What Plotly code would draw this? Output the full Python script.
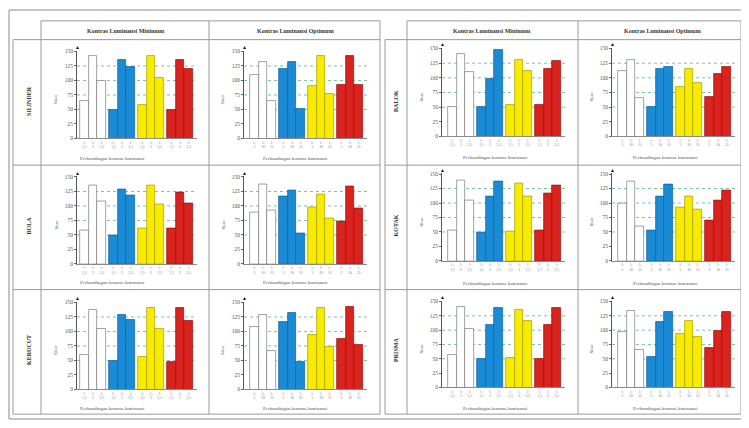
import plotly.graph_objects as go

# page body has an 8px margin: the figure is drawn 8px in from the window corner
OFF = 8
W, H = 749 - OFF, 428 - OFF

objects_left = ["SILINDER", "BOLA", "KERUCUT"]
objects_right = ["BALOK", "KOTAK", "PRISMA"]
col_titles = ["Kontras Luminansi Minimum", "Kontras Luminansi Optimum"]
y_title = "Skor"
x_title = "Perbandingan kontras luminansi"
y_ticks = [0, 25, 50, 75, 100, 125, 150]
grid_vals = [50, 75, 100, 125]

# bar order: white group, blue group, yellow group, red group (3 bars each)
silinder_min = [65, 142, 100, 50, 135, 123, 58, 142, 105, 50, 135, 120]
silinder_opt = [110, 132, 65, 120, 132, 51, 90, 143, 76, 93, 143, 93]
bola_min = [57, 136, 108, 50, 129, 118, 62, 136, 103, 61, 123, 105]
bola_opt = [89, 137, 93, 116, 127, 53, 98, 120, 78, 74, 134, 95]
kerucut_min = [59, 137, 105, 50, 129, 120, 56, 140, 104, 48, 140, 119]
kerucut_opt = [108, 129, 66, 117, 132, 48, 94, 140, 74, 87, 143, 77]
balok_min = [50, 140, 110, 50, 98, 147, 54, 130, 112, 54, 116, 129]
balok_opt = [111, 130, 65, 50, 115, 119, 85, 115, 92, 68, 106, 119]
kotak_min = [53, 139, 104, 50, 111, 137, 51, 133, 111, 52, 117, 131]
kotak_opt = [99, 138, 59, 53, 112, 132, 92, 112, 89, 70, 104, 122]
prisma_min = [56, 140, 103, 49, 110, 139, 52, 135, 116, 50, 110, 139]
prisma_opt = [97, 133, 66, 53, 115, 131, 93, 116, 88, 69, 99, 131]

min_labels = ["1:<br>1,5", "1:<br>2", "1:<br>2,5"] * 4
opt_labels = ["1:<br>5", "1:<br>10", "1:<br>15"] * 4

group_colors = ["#ffffff", "#1b8bd6", "#f7eb00", "#d9231f"]
group_lines = ["#7a7a7a", "#0f5f99", "#a89c00", "#8f1210"]

panels = [
    # (values, labels, axis_px_left, axis_px_right, xrange_left, y0_px, y150_px)
    (silinder_min, min_labels, 77, 197, -0.85, 138, 50),
    (silinder_opt, opt_labels, 244, 367, -1.2, 138, 50),
    (bola_min, min_labels, 77, 197, -0.85, 265, 177),
    (bola_opt, opt_labels, 244, 367, -1.2, 265, 177),
    (kerucut_min, min_labels, 77, 197, -0.85, 392, 304),
    (kerucut_opt, opt_labels, 244, 367, -1.2, 392, 304),
    (balok_min, min_labels, 442, 565, -1.2, 136, 47),
    (balok_opt, opt_labels, 612, 735, -1.2, 136, 47),
    (kotak_min, min_labels, 442, 565, -1.2, 262, 174),
    (kotak_opt, opt_labels, 612, 735, -1.2, 262, 174),
    (prisma_min, min_labels, 442, 565, -1.2, 390, 303),
    (prisma_opt, opt_labels, 612, 735, -1.2, 390, 303),
]

def fx(p):
    return (p - OFF) / W

def fy(p):
    return 1 - (p - OFF) / H

SERIF = "Liberation Serif, DejaVu Serif, serif"
fig = go.Figure()
layout = {}
shapes = []
annotations = []

def note(text, x, y, size, color="#555", angle=0):
    annotations.append(dict(text=text, xref="paper", yref="paper",
                            x=fx(x), y=fy(y), showarrow=False, textangle=angle,
                            xanchor="center", yanchor="middle",
                            font=dict(size=size, family=SERIF, color=color)))

GAP = 3.35
for i, (vals, labels, xl, xr, rl, y0, y150) in enumerate(panels):
    n = i + 1
    sfx = "" if n == 1 else str(n)
    xs = [g * GAP + b for g in range(4) for b in range(3)]
    colors = [group_colors[k // 3] for k in range(12)]
    lines = [group_lines[k // 3] for k in range(12)]
    fig.add_trace(go.Bar(
        x=xs, y=vals, width=1.0,
        marker=dict(color=colors, line=dict(color=lines, width=0.7)),
        xaxis=f"x{sfx}", yaxis=f"y{sfx}", showlegend=False, hoverinfo="y",
    ))
    ytop = 151
    top_px = y0 - ytop * (y0 - y150) / 150
    layout[f"xaxis{sfx}"] = dict(
        domain=[fx(xl), fx(xr)], anchor=f"y{sfx}", range=[rl, 13.0],
        showline=True, linecolor="#8a8a8a", linewidth=1, showgrid=False,
        zeroline=False, tickvals=xs, ticktext=labels, ticks="",
        tickfont=dict(size=3.6, family=SERIF, color="#777"), tickangle=0,
        fixedrange=True,
    )
    layout[f"yaxis{sfx}"] = dict(
        domain=[fy(y0), fy(top_px)], anchor=f"x{sfx}", range=[0, ytop],
        showline=True, linecolor="#555", linewidth=1, showgrid=False,
        zeroline=False, tickvals=y_ticks, ticks="outside", ticklen=2,
        tickcolor="#666", tickfont=dict(size=5.5, family=SERIF, color="#555"),
        fixedrange=True,
    )
    for v in grid_vals:
        shapes.append(dict(type="line", xref=f"x{sfx} domain", yref=f"y{sfx}",
                           x0=0, x1=1, y0=v, y1=v, layer="below",
                           line=dict(color="#7cc4a0", width=1, dash="dot")))
    annotations.append(dict(text="▲", xref=f"x{sfx} domain", yref=f"y{sfx}",
                            x=0, y=149, showarrow=False, xanchor="center",
                            yanchor="bottom", xshift=0.5,
                            font=dict(size=5, color="#111")))
    note(y_title, xl - 21, (y0 + y150) / 2 + 4, 5, angle=-90)

# x titles
xt_centers = [112, 295, 495, 665]
xt_rows_left = [158, 284, 411]
xt_rows_right = [157, 285, 411]
for r in range(3):
    for c, cx in enumerate(xt_centers):
        yy = xt_rows_left[r] if c < 2 else xt_rows_right[r]
        note(x_title, cx, yy, 5)

# column headers
for cx, t in zip([125, 295, 492, 662], col_titles * 2):
    note(f"<b>{t}</b>", cx, 29, 6, color="#333")

# row labels
row_centers = [100, 226, 352]
for cy, t in zip(row_centers, objects_left):
    note(f"<b>{t}</b>", 29, cy, 6, color="#333", angle=-90)
for cy, t in zip(row_centers, objects_right):
    note(f"<b>{t}</b>", 396, cy, 6, color="#333", angle=-90)

def line(x0, y0, x1, y1, color="#9a9a9a", width=1):
    shapes.append(dict(type="line", xref="paper", yref="paper",
                       x0=fx(x0), y0=fy(y0), x1=fx(x1), y1=fy(y1),
                       line=dict(color=color, width=width)))

# outer frame
line(9, 8, 744, 8, "#b0b0b0", 1.5)
line(9, 8, 9, 422, "#b0b0b0", 1.5)
line(744, 8, 744, 422, "#b0b0b0", 1.5)
line(9, 422, 744, 422, "#b0b0b0", 1.5)

# table grids
for (tl, lab, mid, tr) in [(13, 41, 209, 380), (385, 407, 578, 741)]:
    line(lab, 19, tr, 19)
    line(tl, 38, tr, 38)
    line(tl, 165, tr, 165)
    line(tl, 291, tr, 291)
    line(tl, 417, tr, 417)
    line(tl, 38, tl, 417)
    line(lab, 19, lab, 417)
    line(mid, 19, mid, 417)
    line(tr, 19, tr, 417)

fig.update_layout(
    width=W, height=H, margin=dict(l=0, r=0, t=0, b=0),
    paper_bgcolor="white", plot_bgcolor="rgba(0,0,0,0)",
    bargap=0, shapes=shapes, annotations=annotations, **layout,
)
fig.write_html("out.html")
